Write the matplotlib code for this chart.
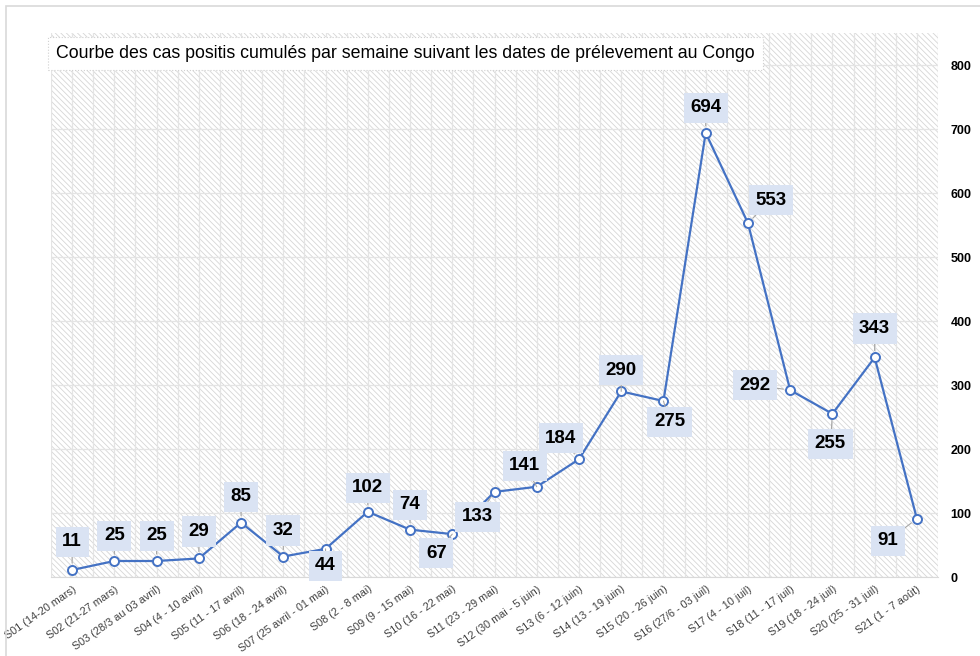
import matplotlib.pyplot as plt
import numpy as np
from matplotlib.patches import Rectangle

plt.rcParams['font.family'] = ['Liberation Sans', 'DejaVu Sans']
plt.rcParams['hatch.color'] = '#d6d6d6'
plt.rcParams['hatch.linewidth'] = 0.6

# donnees
semaines = ["S01 (14-20 mars)", "S02 (21-27 mars)", "S03 (28/3 au 03 avril)", "S04 (4 - 10 avril)",
            "S05 (11 - 17 avril)", "S06 (18 - 24 avril)", "S07 (25 avril - 01 mai)", "S08 (2 - 8 mai)",
            "S09 (9 - 15 mai)", "S10 (16 - 22 mai)", "S11 (23 - 29 mai)", "S12 (30 mai - 5 juin)",
            "S13 (6 - 12 juin)", "S14 (13 - 19 juin)", "S15 (20 - 26 juin)", "S16 (27/6 - 03 juil)",
            "S17 (4 - 10 juil)", "S18 (11 - 17 juil)", "S19 (18 - 24 juil)", "S20 (25 - 31 juil)",
            "S21 (1 - 7 août)"]
cas = [11, 25, 25, 29, 85, 32, 44, 102, 74, 67, 133, 141, 184, 290, 275, 694, 553, 292, 255, 343, 91]

# decalage des etiquettes (pixels)
dx = [0, 0, 0, 0, 0, 0, 0, 0, 0, -16, -17, -12, -18, 0, 6, 0, 23, -35, -2, 0, -29]
dy = [28, 25, 25, 27, 26, 26, -17, 24, 25, -19, -25, 21, 21, 21, -21, 25, 23, 5, -30, 29, -22]

titre = "Courbe des cas positis cumulés par semaine suivant les dates de prélevement au Congo"

fig = plt.figure(figsize=(9.8, 6.56), dpi=100)
ax = fig.add_axes([51/980, 79/656, 887/980, 544/656])

x = np.arange(len(cas))

ax.add_patch(Rectangle((0, 0), 1, 1, transform=ax.transAxes, facecolor='white',
                       edgecolor='#d6d6d6', hatch='\\\\\\\\\\\\', linewidth=0, zorder=0))

ax.plot(x, cas, color='#4472c4', lw=1.6, marker='o', ms=6.5, mfc='white', mec='#4472c4',
        mew=1.4, zorder=3)

for i, v in enumerate(cas):
    ax.annotate(str(v), (x[i], v), xytext=(dx[i]*0.72, dy[i]*0.72), textcoords='offset points',
                ha='center', va='center', fontsize=13.5, fontweight='bold', color='black',
                bbox=dict(boxstyle='square,pad=0.35', fc='#dae3f3', ec='none'),
                arrowprops=dict(arrowstyle='-', color='#a6a6a6', lw=0.8, shrinkA=0, shrinkB=5),
                zorder=4)

ax.set_xlim(-0.5, len(cas) - 0.5)
ax.set_ylim(0, 850)
ax.set_yticks(range(0, 801, 100))
ax.yaxis.tick_right()
ax.tick_params(axis='y', length=0, pad=9, labelsize=9)
for t in ax.get_yticklabels():
    t.set_fontweight('bold')

ax.set_xticks(x)
ax.set_xticklabels(semaines, rotation=35, ha='right', rotation_mode='anchor',
                   fontsize=7.8, color='#404040')
ax.set_xticks(np.arange(-0.5, len(cas), 1), minor=True)
ax.tick_params(axis='x', which='both', length=0, pad=5)

ax.set_axisbelow(True)
ax.grid(True, which='major', color='#e4e4e4', lw=0.9)
ax.grid(True, which='minor', axis='x', color='#e4e4e4', lw=0.9)

for s in ['top', 'left', 'right']:
    ax.spines[s].set_visible(False)
ax.spines['bottom'].set_color('#d9d9d9')

fig.text(56/980, 1 - 53/656, titre, fontsize=12.8, va='center', ha='left',
         bbox=dict(boxstyle='square,pad=0.45', fc='white', ec='#d0d0d0', ls=':', lw=0.8))

fig.add_artist(Rectangle((6/980, -0.1), 1.2, 1 - 6/656 + 0.1, transform=fig.transFigure,
                         fill=False, ec='#d9d9d9', lw=1.2))

fig.savefig('out.png', dpi=100)
